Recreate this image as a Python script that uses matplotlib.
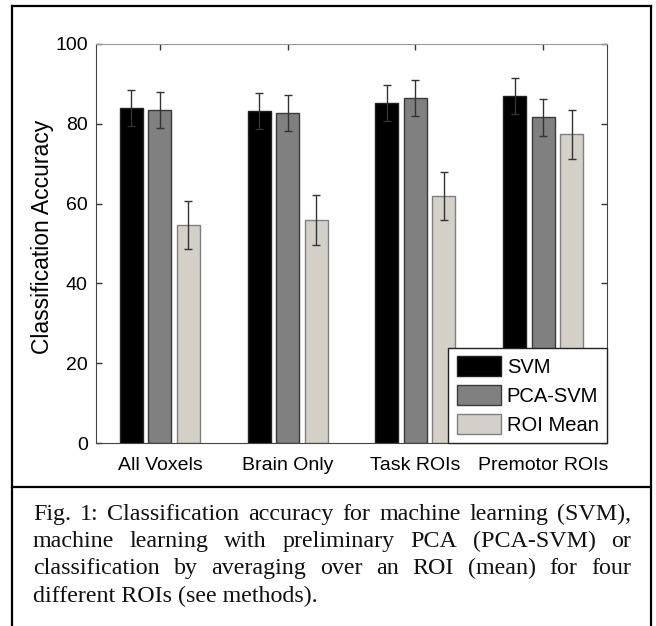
import matplotlib.pyplot as plt
import numpy as np

CATEGORIES = ['All Voxels', 'Brain Only', 'Task ROIs', 'Premotor ROIs']
SVM = [83.9, 83.1, 85.1, 86.9]
SVM_ERR = [4.5, 4.5, 4.5, 4.5]
PCA_SVM = [83.5, 82.6, 86.4, 81.6]
PCA_SVM_ERR = [4.5, 4.5, 4.5, 4.6]
ROI_MEAN = [54.6, 55.9, 61.9, 77.4]
ROI_MEAN_ERR = [6.1, 6.2, 5.9, 6.1]
SERIES = ['SVM', 'PCA-SVM', 'ROI Mean']
Y_TICKS = [0, 20, 40, 60, 80, 100]

CAPTION = [
    "Fig. 1: Classification accuracy for machine learning (SVM),",
    "machine learning with preliminary PCA (PCA-SVM) or",
    "classification by averaging over an ROI (mean) for four",
    "different ROIs (see methods).",
]

plt.rcParams['font.family'] = ['Liberation Sans', 'DejaVu Sans']

W, H = 656, 626
fig = plt.figure(figsize=(W / 100, H / 100), dpi=100)
ax = fig.add_axes([96 / W, 1 - 443 / H, (607 - 96) / W, (443 - 44) / H])

x = np.arange(1, len(CATEGORIES) + 1)
offset = 0.2235
width = 0.18
colors = ['#000000', '#808080', '#d4d0c8']
edges = ['#202020', '#3a3a3a', '#808080']
values = [SVM, PCA_SVM, ROI_MEAN]
errors = [SVM_ERR, PCA_SVM_ERR, ROI_MEAN_ERR]

for i, (vals, errs) in enumerate(zip(values, errors)):
    pos = x + (i - 1) * offset
    ax.bar(pos, vals, width, color=colors[i], edgecolor=edges[i],
           linewidth=1, label=SERIES[i], zorder=2)
    ax.errorbar(pos, vals, yerr=errs, fmt='none', ecolor='#333333',
                elinewidth=1, capsize=2.6, capthick=1, zorder=3)

ax.set_xlim(0.5, 4.5)
ax.set_ylim(0, 100)
ax.set_xticks(x)
ax.set_xticklabels(CATEGORIES, fontsize=14)
ax.set_yticks(Y_TICKS)
ax.set_yticklabels([str(t) for t in Y_TICKS], fontsize=14)
ax.tick_params(direction='in', length=4, width=1, color='#333333',
               top=True, right=True, pad=6)
ax.tick_params(axis='x', pad=10)
ax.set_ylabel('Classification Accuracy', fontsize=16.5, labelpad=5)
ax.yaxis.set_label_coords(-0.082, 0.516)

for side in ['left', 'bottom', 'right']:
    ax.spines[side].set_color('#444444')
ax.spines['top'].set_color('#9a9a9a')

leg = ax.legend(loc='lower right', fontsize=14.5, frameon=True, fancybox=False,
                borderaxespad=0, handlelength=2.2, handleheight=1.15,
                handletextpad=0.28, labelspacing=0.4, borderpad=0.42)
leg.get_frame().set_edgecolor('#222222')
leg.get_frame().set_linewidth(1)
leg.get_frame().set_alpha(1)

# outer box and separator
fig.add_artist(plt.Line2D([12 / W, 12 / W], [0, 1 - 6 / H], transform=fig.transFigure,
                          color='black', linewidth=1.6))
fig.add_artist(plt.Line2D([651 / W, 651 / W], [0, 1 - 6 / H], transform=fig.transFigure,
                          color='black', linewidth=1.6))
fig.add_artist(plt.Line2D([12 / W, 651 / W], [1 - 6 / H, 1 - 6 / H], transform=fig.transFigure,
                          color='black', linewidth=1.6))
fig.add_artist(plt.Line2D([12 / W, 651 / W], [1 - 487 / H, 1 - 487 / H], transform=fig.transFigure,
                          color='black', linewidth=1.6))

# justified caption
renderer = fig.canvas.get_renderer()
left_px, right_px = 33, 631
baselines = [520, 547, 574, 602]
cap_kw = dict(fontsize=17.3, family=['Liberation Serif', 'DejaVu Serif'],
              va='baseline', ha='left', color='#111111')
for n, (line, base) in enumerate(zip(CAPTION, baselines)):
    y = 1 - base / H
    if n == len(CAPTION) - 1:
        fig.text(left_px / W, y, line, **cap_kw)
        continue
    words = line.split(' ')
    texts = [fig.text(0, y, w, **cap_kw) for w in words]
    widths = [t.get_window_extent(renderer).width for t in texts]
    gap = (right_px - left_px - sum(widths)) / (len(words) - 1)
    cur = left_px
    for t, wd in zip(texts, widths):
        t.set_x(cur / W)
        cur += wd + gap

fig.savefig('out.png', dpi=100)
